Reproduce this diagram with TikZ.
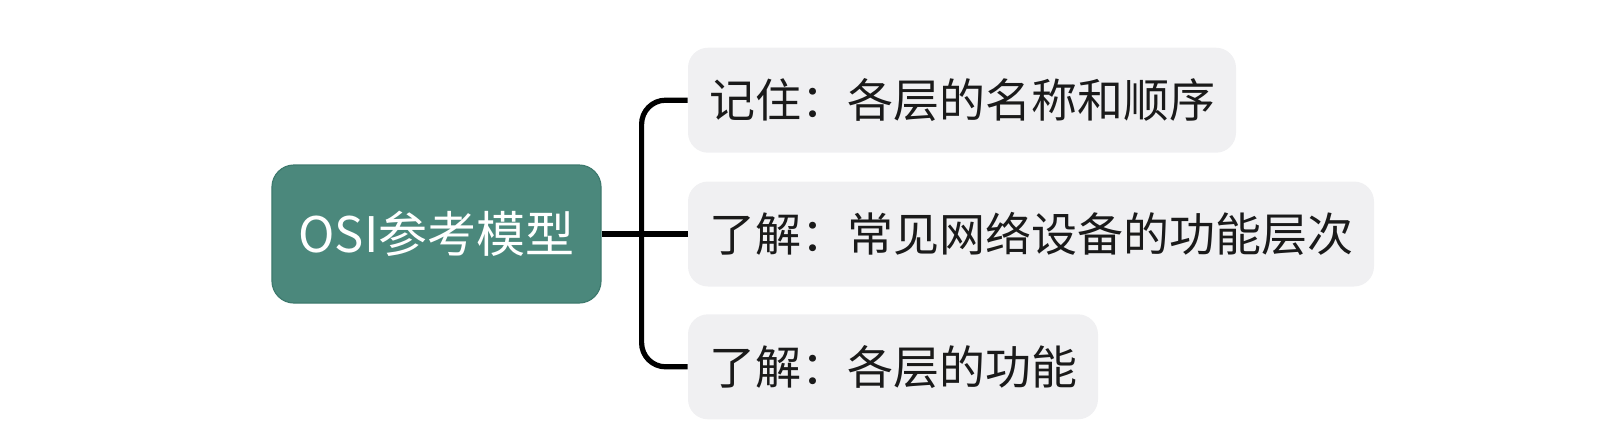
\documentclass[tikz,border=0pt]{standalone}
\usepackage{fontspec}
\usepackage{xcolor}
\usepackage{tikz}
\usetikzlibrary{positioning}
\newfontfamily\cjk{Noto Sans CJK SC}
\definecolor{rootteal}{HTML}{4B887C}
\definecolor{rootedge}{HTML}{3E7A6E}
\definecolor{leafgray}{HTML}{F0F0F2}
\definecolor{leaftext}{HTML}{1A1A1A}

\begin{document}
\begin{tikzpicture}[
    rootbox/.style={rectangle, draw=rootedge, line width=0.6pt, fill=rootteal, rounded corners=11pt, minimum width=164.5pt, minimum height=69pt, align=center, text=white, font=\cjk\fontsize{24.5}{28}\selectfont},
    leafbox/.style={rectangle, fill=leafgray, rounded corners=10pt, minimum height=52.5pt, inner xsep=10.5pt, anchor=west, text=leaftext, font=\cjk\fontsize{23}{28}\selectfont},
    link/.style={line width=2.6pt, black, rounded corners=12pt},
]
    \useasboundingbox (-218.25pt,-106pt) rectangle (581.25pt,117pt);

    % Topic and branches
    \node[rootbox] (root) {OSI参考模型};
    \node[leafbox, right=43pt of root] (know) {了解：常见网络设备的功能层次};
    \node[leafbox, above=14pt of know.north west, anchor=south west] (remember) {记住：各层的名称和顺序};
    \node[leafbox, below=13.5pt of know.south west, anchor=north west] (layers) {了解：各层的功能};
    \coordinate[right=20pt of root.east] (trunk);

    % Connect everything
    \draw[link] (root.east) -- (know.west);
    \draw[link] (remember.west) -| (trunk) |- (layers.west);
\end{tikzpicture}
\end{document}
